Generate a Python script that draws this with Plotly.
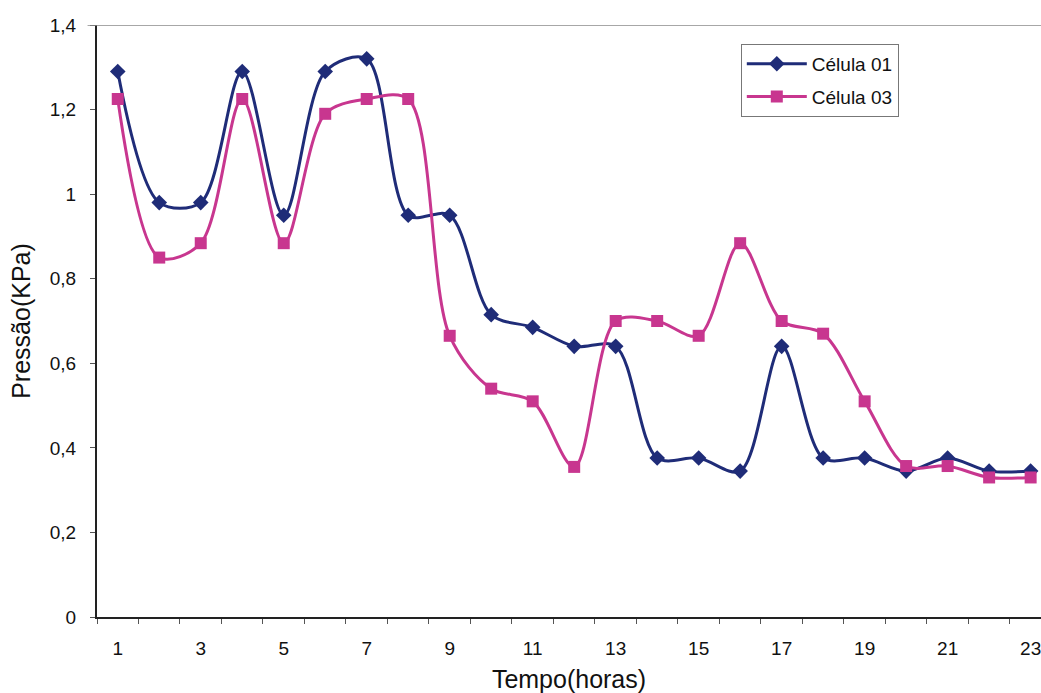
import plotly.graph_objects as go

# Hourly readings (hours 1..23)
horas = list(range(1, 24))
celula_01 = [1.29, 0.98, 0.98, 1.29, 0.95, 1.29, 1.32, 0.95, 0.95, 0.715, 0.685, 0.64,
             0.64, 0.376, 0.376, 0.345, 0.64, 0.376, 0.376, 0.345, 0.376, 0.345, 0.345]
celula_03 = [1.225, 0.85, 0.884, 1.225, 0.884, 1.19, 1.225, 1.225, 0.665, 0.54, 0.51, 0.355,
             0.70, 0.70, 0.665, 0.884, 0.70, 0.67, 0.51, 0.357, 0.357, 0.33, 0.33]

x_labels = [str(h) for h in range(1, 24, 2)]
y_ticks = [0, 0.2, 0.4, 0.6, 0.8, 1.0, 1.2, 1.4]
y_labels = ["0", "0,2", "0,4", "0,6", "0,8", "1", "1,2", "1,4"]

AZUL = "#1f2c78"
MAGENTA = "#c8368f"
FONT = "Liberation Sans, Arial, sans-serif"
TXT = "#111111"

fig = go.Figure()
fig.add_trace(go.Scatter(
    x=horas, y=celula_01, name="Célula 01", mode="lines+markers", legendgroup="c01",
    line=dict(color=AZUL, width=3, shape="spline", smoothing=0.9),
    marker=dict(symbol="diamond", size=12, color=AZUL),
))
fig.add_trace(go.Scatter(
    x=horas, y=celula_03, name="Célula 03", mode="lines+markers", legendgroup="c03",
    line=dict(color=MAGENTA, width=3, shape="spline", smoothing=0.9),
    marker=dict(symbol="square", size=12, color=MAGENTA),
))

# thin grey frame line along the top of the plot area
fig.add_shape(type="line", xref="paper", yref="y", x0=-0.01, x1=1, y0=1.4, y1=1.4,
              line=dict(color="#8a8a8a", width=1.5))

fig.update_layout(
    width=1041, height=693,
    margin=dict(l=97, r=0, t=25, b=76),
    paper_bgcolor="white", plot_bgcolor="white",
    font=dict(family=FONT, size=19, color=TXT),
    showlegend=True,
    legend=dict(
        x=0.682, y=0.968, xanchor="left", yanchor="top",
        bgcolor="white", bordercolor="#777777", borderwidth=1,
        font=dict(family=FONT, size=19, color=TXT),
        itemwidth=60, tracegroupgap=5,
    ),
    xaxis=dict(
        range=[0.5, 23.25], showgrid=False, zeroline=False,
        showline=True, linecolor="#222222", linewidth=2,
        tickvals=list(range(1, 24, 2)), ticktext=x_labels,
        ticks="outside", ticklen=0, ticklabelstandoff=13,
        ticklabeloverflow="allow",
        tickfont=dict(family=FONT, size=19, color=TXT),
        minor=dict(tickvals=[h + 0.5 for h in range(0, 24)], ticks="outside",
                   ticklen=5, tickcolor="#555555", tickwidth=1),
        title=dict(text="Tempo(horas)", font=dict(family=FONT, size=25, color=TXT),
                   standoff=16),
    ),
    yaxis=dict(
        range=[0, 1.4], showgrid=False, zeroline=False,
        showline=True, linecolor="#222222", linewidth=2,
        tickvals=y_ticks, ticktext=y_labels,
        ticks="outside", ticklen=5, tickcolor="#555555", ticklabelstandoff=10,
        tickfont=dict(family=FONT, size=19, color=TXT),
        title=dict(text="Pressão(KPa)", font=dict(family=FONT, size=25, color=TXT),
                   standoff=12),
    ),
)

fig.write_html("out.html")
